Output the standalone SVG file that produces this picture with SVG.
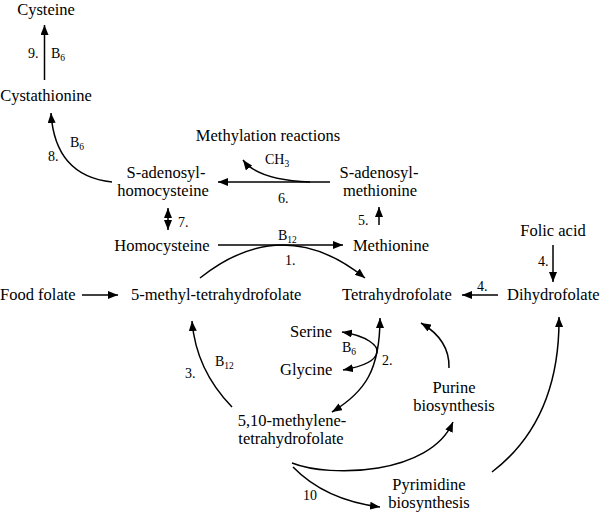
<svg xmlns="http://www.w3.org/2000/svg" width="600" height="515" viewBox="0 0 600 515" font-family="'Liberation Serif', 'Times New Roman', Tinos, 'DejaVu Serif', serif">
<defs>
<marker id="ah" viewBox="0 0 10 8" refX="10" refY="4" markerWidth="10" markerHeight="8" markerUnits="userSpaceOnUse" orient="auto-start-reverse">
<path d="M0,0 L10,4 L0,8 Z" fill="#000"/>
</marker>
</defs>
<style>
text{font-family:'Liberation Serif','Times New Roman',Tinos,'DejaVu Serif',serif;fill:#000}
.n{font-size:16.5px}
.m{text-anchor:middle}
.l{font-size:14px}
.s{font-size:9.5px}
.c{fill:none;stroke:#000;stroke-width:1.5}
.e{marker-end:url(#ah)}
.b{marker-start:url(#ah);marker-end:url(#ah)}
</style>
<rect width="600" height="515" fill="#fff"/>
<g id="connectors">
<path class="c e" d="M44.5,80 L44.5,25"/>
<path class="c e" d="M112,182 Q55,176 51,113"/>
<path class="c e" d="M330,182 L218,182"/>
<path class="c e" d="M310,182 Q258,180 243,160"/>
<path class="c b" d="M168,208 L168,230"/>
<path class="c e" d="M379,225 L379,207"/>
<path class="c e" d="M218,245 L343,245"/>
<path class="c e" d="M200,278 Q283,212 365,278"/>
<path class="c e" d="M82,295 L118,295"/>
<path class="c e" d="M498,295 L462,295"/>
<path class="c e" d="M553,245 L553,282"/>
<path class="c e" d="M232,407 Q196,370 192,321"/>
<path class="c b" d="M380,318 C380,370 365,392 332,412"/>
<path class="c b" d="M342,332 C368,336 378,346 377,352 C376,360 366,366 343,370"/>
<path class="c e" d="M449,368 Q450,340 421,323"/>
<path class="c e" d="M492,472 Q560,420 559,317"/>
<path class="c e" d="M292,463 C330,478 430,475 453,422"/>
<path class="c e" d="M293,467 Q325,500 380,507"/>
</g>
<g id="labels">
<text class="l" x="28" y="58">9.</text>
<text class="l" x="51" y="58">B<tspan class="s" dy="3">6</tspan></text>
<text class="l" x="48" y="161">8.</text>
<text class="l" x="70" y="147">B<tspan class="s" dy="3">6</tspan></text>
<text class="l" x="265" y="164">CH<tspan class="s" dy="3">3</tspan></text>
<text class="l" x="278" y="203">6.</text>
<text class="l" x="178" y="227">7.</text>
<text class="l" x="358" y="225">5.</text>
<text class="l" x="278" y="240">B<tspan class="s" dy="3">12</tspan></text>
<text class="l" x="285" y="265">1.</text>
<text class="l" x="477" y="291">4.</text>
<text class="l" x="538" y="266">4.</text>
<text class="l" x="342" y="352">B<tspan class="s" dy="3">6</tspan></text>
<text class="l" x="382" y="365">2.</text>
<text class="l" x="185" y="378">3.</text>
<text class="l" x="215" y="366">B<tspan class="s" dy="3">12</tspan></text>
<text class="l" x="303" y="500">10</text>
</g>
<g id="cysteine"><text class="n m" x="46" y="15">Cysteine</text></g>
<g id="cystathionine"><text class="n m" x="46" y="101">Cystathionine</text></g>
<g id="methylation"><text class="n m" x="268" y="141">Methylation reactions</text></g>
<g id="sah"><text class="n m" x="166" y="178">S-adenosyl-</text><text class="n m" x="163" y="196">homocysteine</text></g>
<g id="sam"><text class="n m" x="379" y="178">S-adenosyl-</text><text class="n m" x="380" y="196">methionine</text></g>
<g id="homocysteine"><text class="n m" x="162" y="251">Homocysteine</text></g>
<g id="methionine"><text class="n m" x="391" y="251">Methionine</text></g>
<g id="folic-acid"><text class="n m" x="553" y="236">Folic acid</text></g>
<g id="food-folate"><text class="n" x="0" y="300">Food folate</text></g>
<g id="methyl-thf"><text class="n" x="131" y="300">5-methyl-tetrahydrofolate</text></g>
<g id="thf"><text class="n" x="342" y="300">Tetrahydrofolate</text></g>
<g id="dhf"><text class="n" x="507" y="300">Dihydrofolate</text></g>
<g id="serine"><text class="n" x="290" y="337">Serine</text></g>
<g id="glycine"><text class="n" x="280" y="375">Glycine</text></g>
<g id="purine"><text class="n m" x="454" y="393">Purine</text><text class="n m" x="454" y="411">biosynthesis</text></g>
<g id="methylene-thf"><text class="n m" x="292" y="426">5,10-methylene-</text><text class="n m" x="291" y="444">tetrahydrofolate</text></g>
<g id="pyrimidine"><text class="n m" x="429" y="490">Pyrimidine</text><text class="n m" x="429" y="508">biosynthesis</text></g>
</svg>
